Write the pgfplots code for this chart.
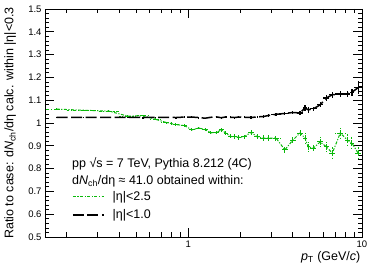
\documentclass[border=0pt]{standalone}
\usepackage{pgfplots}
\pgfplotsset{compat=1.18}
\usepackage{pgfplotstable}
\usepackage{fontspec}
\setmainfont{Liberation Sans}
\definecolor{rgreen}{RGB}{10,185,10}

\pgfplotstableread{
x ex y ey
0.175 0 1.025 0.002
0.25 0 1.025 0.002
0.35 0 1.025 0.002
0.45 0 1.025 0.002
0.55 0 1.024 0.002
0.65 0 1.025 0.002
0.75 0 1.025 0.002
0.85 0 1.024 0.002
0.95 0 1.026 0.003
1.05 0 1.026 0.003
1.15 0 1.024 0.003
1.25 0 1.021 0.003
1.35 0 1.025 0.003
1.45 0 1.027 0.004
1.55 0 1.023 0.004
1.65 0 1.027 0.004
1.75 0 1.025 0.004
1.85 0 1.024 0.004
1.95 0 1.026 0.005
2.1 0 1.025 0.004
2.3 0 1.024 0.005
2.5 0 1.027 0.005
2.7 0 1.028 0.006
2.9 0 1.033 0.006
3.2 0.2 1.038 0.006
3.6 0.2 1.042 0.007
4.0 0.2 1.046 0.008
4.4 0.2 1.044 0.009
4.7 0.1 1.066 0.012
4.9 0.1 1.058 0.012
5.25 0.25 1.062 0.010
5.75 0.25 1.080 0.011
6.25 0.25 1.110 0.012
6.75 0.25 1.124 0.013
7.5 0.5 1.127 0.012
8.25 0.25 1.127 0.014
8.75 0.25 1.135 0.015
9.5 0.5 1.155 0.030
}\blacktab

\pgfplotstableread{
x ex y ey
0.175 0.025 1.061 0.003
0.25 0.05 1.056 0.003
0.35 0.05 1.052 0.003
0.45 0.05 1.030 0.003
0.55 0.05 1.032 0.003
0.65 0.05 1.016 0.004
0.75 0.05 1.002 0.004
0.85 0.05 0.993 0.005
0.95 0.05 0.989 0.005
1.05 0.05 0.970 0.006
1.15 0.05 0.978 0.006
1.25 0.05 0.971 0.007
1.35 0.05 0.957 0.007
1.45 0.05 0.958 0.008
1.55 0.05 0.970 0.008
1.65 0.05 0.955 0.009
1.75 0.05 0.941 0.009
1.85 0.05 0.940 0.010
1.95 0.05 0.937 0.010
2.1 0.1 0.940 0.009
2.3 0.1 0.959 0.010
2.5 0.1 0.939 0.011
2.7 0.1 0.934 0.012
2.9 0.1 0.934 0.013
3.2 0.2 0.934 0.011
3.6 0.2 0.882 0.013
4.0 0.2 0.925 0.014
4.4 0.2 0.956 0.018
4.7 0.1 0.934 0.020
4.9 0.1 0.895 0.020
5.25 0.25 0.890 0.018
5.75 0.25 0.917 0.020
6.25 0.25 0.895 0.022
6.75 0.25 0.868 0.030
7.5 0.5 0.956 0.022
8.25 0.25 0.925 0.025
8.75 0.25 0.912 0.028
9.5 0.5 0.868 0.030
}\greentab

\begin{document}
\begin{tikzpicture}
\begin{axis}[
  scale only axis, width=317pt, height=228pt,
  xmode=log, xmin=0.15, xmax=10, ymin=0.5, ymax=1.5,
  xtick={1,10}, xticklabels={1,10},
  minor xtick={0.2,0.3,0.4,0.5,0.6,0.7,0.8,0.9,2,3,4,5,6,7,8,9},
  ytick={0.5,0.6,0.7,0.8,0.9,1,1.1,1.2,1.3,1.4,1.5},
  minor y tick num=4,
  tick align=inside,
  major tick length=9pt, minor tick length=4.5pt,
  every tick/.style={black, line width=0.7pt},
  axis line style={line width=0.8pt},
  tick label style={font=\fontsize{9.5}{10}\selectfont},
  /pgf/number format/assume math mode=true,
  yticklabel style={/pgf/number format/fixed},
  label style={font=\fontsize{12.5}{14}\selectfont},
  xlabel={\textit{p}\textsubscript{T} (GeV/\textit{c})},
  ylabel={Ratio to case: d\textit{N}\textsubscript{ch}/dη calc. within |η|<0.3},
  xlabel style={at={(axis description cs:1.006,-0.088)}, anchor=east},
  ylabel style={at={(axis description cs:-0.11,0.5)}, anchor=center},
  legend style={at={(rel axis cs:0.085,0.21)}, anchor=north west, draw=none, fill=none,
    font=\fontsize{12.5}{14}\selectfont, inner sep=0pt, row sep=4pt, cells={anchor=west},
    /tikz/every odd column/.append style={column sep=6pt}},
  legend image code/.code={\draw[#1] (0pt,0pt) -- (31pt,0pt);},
]
\addplot[rgreen, line width=1pt, dash pattern=on 3pt off 1.5pt on 1.2pt off 1.5pt, mark=none,
  error bars/.cd, x dir=both, x explicit, y dir=both, y explicit,
  error bar style={line width=1pt}, error mark=none]
  table[x=x, y=y, x error=ex, y error=ey]{\greentab};
\addlegendentry{|η|<2.5}
\addplot[black, line width=1.5pt, dash pattern=on 11pt off 3.5pt, mark=none,
  error bars/.cd, x dir=both, x explicit, y dir=both, y explicit,
  error bar style={line width=1.2pt}, error mark=none]
  table[x=x, y=y, x error=ex, y error=ey]{\blacktab};
\addlegendentry{|η|<1.0}
\node[anchor=west, inner sep=0pt, font=\fontsize{12.5}{14}\selectfont] at (rel axis cs:0.085,0.32) {pp √s = 7 TeV, Pythia 8.212 (4C)};
\node[anchor=west, inner sep=0pt, font=\fontsize{12.5}{14}\selectfont] at (rel axis cs:0.085,0.246) {d\textit{N}\textsubscript{ch}/dη ≈ 41.0 obtained within:};
\end{axis}
\pgfresetboundingbox
\path[use as bounding box] ([shift={(-45pt,-32pt)}]current axis.south west) rectangle ([shift={(12pt,9pt)}]current axis.north east);
\end{tikzpicture}
\end{document}
